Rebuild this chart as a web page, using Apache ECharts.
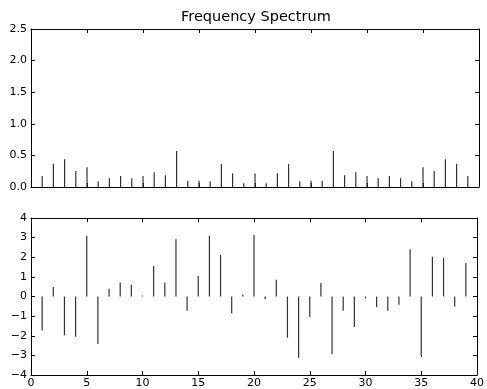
<!DOCTYPE html>
<html>
<head>
<meta charset="utf-8">
<script src="https://cdn.jsdelivr.net/npm/echarts@6/dist/echarts.min.js"></script>
<style>
 html, body { margin: 0; padding: 0; background: #fff; }
 #chart { width: 487px; height: 389px; }
</style>
</head>
<body>
<div id="chart"></div>
<script>
const freqs = Array.from({ length: 39 }, (_, i) => i + 1);
const magnitude = [
 0.175, 0.367, 0.44, 0.255, 0.314, 0.09, 0.138, 0.175, 0.138, 0.175,
 0.234, 0.186, 0.569, 0.10, 0.10, 0.09, 0.362, 0.218, 0.058, 0.213,
 0.058, 0.218, 0.362, 0.09, 0.10, 0.10, 0.569, 0.186, 0.234, 0.175,
 0.138, 0.175, 0.138, 0.09, 0.314, 0.255, 0.44, 0.367, 0.175,
];
const phase = [
 -1.73, 0.49, -1.98, -2.05, 3.10, -2.42, 0.39, 0.71, 0.58, 0.05,
 1.56, 0.71, 2.92, -0.73, 1.05, 3.10, 2.12, -0.86, 0.10, 3.14,
 -0.14, 0.85, -2.10, -3.12, -1.05, 0.69, -2.93, -0.73, -1.56, -0.10,
 -0.54, -0.73, -0.42, 2.41, -3.08, 2.03, 1.97, -0.51, 1.71,
];

const font = 'DejaVu Sans';
const minus = (s) => String(s).replace('-', '\u2212');

const tick = { show: true, inside: true, length: 4, lineStyle: { color: '#000', width: 1 } };
const line = { show: true, onZero: false, lineStyle: { color: '#000', width: 1 } };

const xAxisBase = (gridIndex, position, showLabel) => ({
 type: 'value',
 gridIndex,
 position,
 min: 0,
 max: 40,
 interval: 5,
 axisLine: line,
 axisTick: tick,
 splitLine: { show: false },
 axisLabel: {
  show: showLabel,
  color: '#000',
  fontFamily: font,
  fontSize: 11,
  margin: 3,
 },
});

const yAxisBase = (gridIndex, position, min, max, interval, showLabel, fmt) => ({
 type: 'value',
 gridIndex,
 position,
 min,
 max,
 interval,
 axisLine: line,
 axisTick: tick,
 splitLine: { show: false },
 axisLabel: {
  show: showLabel,
  color: '#000',
  fontFamily: font,
  fontSize: 11,
  margin: 4,
  formatter: fmt,
 },
});

const stems = (values) => freqs.map((f, i) => [f, values[i]]);

const stemRender = (params, api) => {
 const p0 = api.coord([api.value(0), 0]);
 const p1 = api.coord([api.value(0), api.value(1)]);
 return {
  type: 'line',
  shape: { x1: p0[0], y1: p0[1], x2: p1[0], y2: p1[1] },
  style: { stroke: '#333', lineWidth: 1.2 },
 };
};

const chart = echarts.init(document.getElementById('chart'), null, { renderer: 'canvas' });

chart.setOption({
 backgroundColor: '#fff',
 animation: false,
 title: {
  text: 'Frequency Spectrum',
  left: 181,
  top: 10,
  padding: 0,
  textStyle: { color: '#000', fontFamily: font, fontSize: 14.5, fontWeight: 'normal' },
 },
 grid: [
  { left: 31, right: 8, top: 29, height: 158 },
  { left: 31, right: 8, top: 218, height: 158 },
 ],
 xAxis: [
  xAxisBase(0, 'bottom', false),
  xAxisBase(0, 'top', false),
  xAxisBase(1, 'bottom', true),
  xAxisBase(1, 'top', false),
 ],
 yAxis: [
  yAxisBase(0, 'left', 0, 2.5, 0.5, true, (v) => v.toFixed(1)),
  yAxisBase(0, 'right', 0, 2.5, 0.5, false),
  yAxisBase(1, 'left', -4, 4, 1, true, (v) => minus(v)),
  yAxisBase(1, 'right', -4, 4, 1, false),
 ],
 series: [
  {
   type: 'custom',
   xAxisIndex: 0,
   yAxisIndex: 0,
   renderItem: stemRender,
   data: stems(magnitude),
  },
  {
   type: 'custom',
   xAxisIndex: 2,
   yAxisIndex: 2,
   renderItem: stemRender,
   data: stems(phase),
  },
 ],
});
</script>
</body>
</html>
